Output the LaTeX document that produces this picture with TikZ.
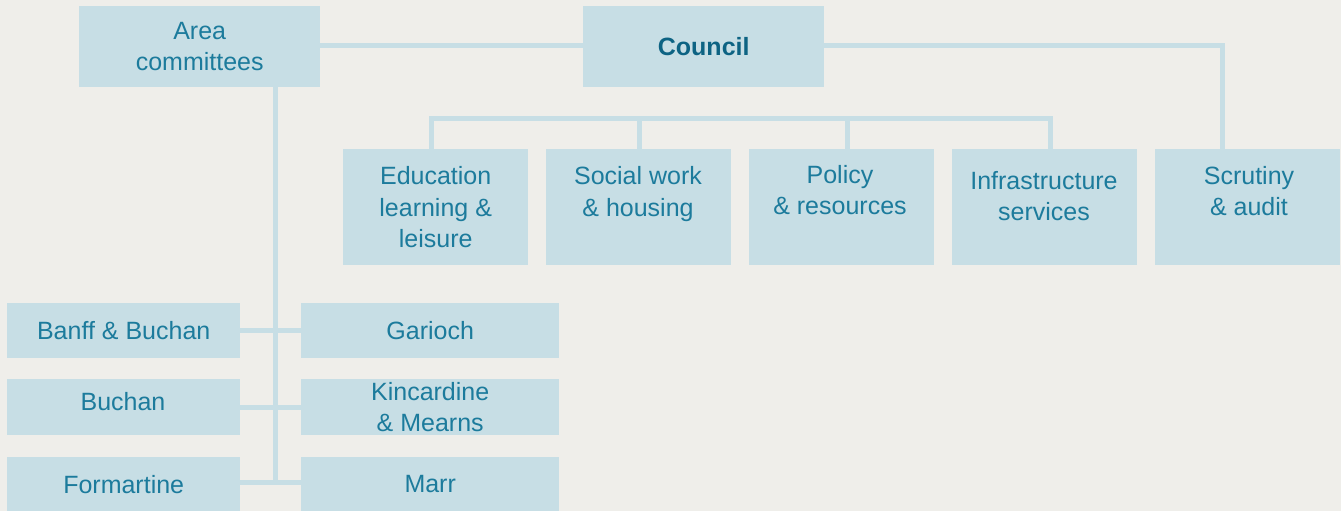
\documentclass[tikz,border=0pt]{standalone}
\usepackage{fontspec}
\setmainfont{Liberation Sans}
\usetikzlibrary{calc}
\definecolor{bgc}{HTML}{EFEEEA}
\definecolor{boxc}{HTML}{C7DEE5}
\definecolor{txtc}{HTML}{1C7B9C}
\definecolor{boldc}{HTML}{0D6383}
\tikzset{
  box/.style={fill=boxc, draw=none, inner sep=0pt, anchor=north west, text=txtc, align=center,
    font=\fontsize{25}{31.5}\selectfont},
  lbl/.style={text=txtc, align=center, inner sep=0pt, font=\fontsize{25}{31.5}\selectfont},
  conn/.style={draw=boxc, line width=5pt},
}
\begin{document}
\begin{tikzpicture}[x=1pt, y=-1pt]
\fill[bgc] (0,0) rectangle (1341,511);
\useasboundingbox (0,0) rectangle (1341,511);
% top row
\node[box, minimum width=241, minimum height=81] (area) at (79,6) {Area\\committees};
\node[box, minimum width=241, minimum height=81, text=boldc, font=\fontsize{25}{31.5}\selectfont\bfseries] (council) at (583,6) {Council};
% second row
\node[box, minimum width=185, minimum height=116] (edu) at (343,149) {Education\\learning \&\\leisure};
\node[box, minimum width=185, minimum height=116] (social) at (546,149) {};
\node[box, minimum width=185, minimum height=116] (policy) at (749,149) {};
\node[box, minimum width=185, minimum height=116] (infra) at (952,149) {};
\node[box, minimum width=185, minimum height=116] (scrutiny) at (1155,149) {};
\node[lbl] (socialt) at (638,194) {Social work\\\& housing};
\node[lbl] (policyt) at (840,190) {Policy\\\& resources};
\node[lbl] (infrat) at (1044,196) {Infrastructure\\services};
\node[lbl] (scrutinyt) at (1249,191) {Scrutiny\\\& audit};
% area committees
\node[box, minimum width=233, minimum height=55] (banff) at (7,303) {Banff \& Buchan};
\node[box, minimum width=258, minimum height=55] (garioch) at (301,303) {Garioch};
\node[box, minimum width=233, minimum height=56] (buchan) at (7,379) {};
\node[lbl] (buchant) at (123,402) {Buchan};
\node[box, minimum width=258, minimum height=56] (kinc) at (301,379) {Kincardine\\\& Mearns};
\node[box, minimum width=233, minimum height=54] (form) at (7,457) {Formartine};
\node[box, minimum width=258, minimum height=54] (marr) at (301,457) {Marr};
% connectors
\draw[conn] ([yshift=1pt]area.east) -- ([yshift=1pt]council.west);
\draw[conn] ([yshift=1pt]council.east) -| ([xshift=-25.5pt]scrutiny.north);
\coordinate (bar) at (0,118);
\draw[conn] ([xshift=-4.5pt]edu.north) |- ([xshift=6pt]infra.north |- bar) -- ([xshift=6pt]infra.north);
\draw[conn] ([xshift=1pt]social.north) -- ([xshift=1pt]social.north |- bar);
\draw[conn] ([xshift=6pt]policy.north) -- ([xshift=6pt]policy.north |- bar);
\coordinate (vx) at (275,0);
\draw[conn] (area.south -| vx) -- ([yshift=2.5pt]form.east -| vx);
\draw[conn] (banff.east) -- (garioch.west);
\draw[conn] (buchan.east) -- (kinc.west);
\draw[conn] ([yshift=2pt]form.east) -- ([yshift=2pt]marr.west);
\end{tikzpicture}
\end{document}
